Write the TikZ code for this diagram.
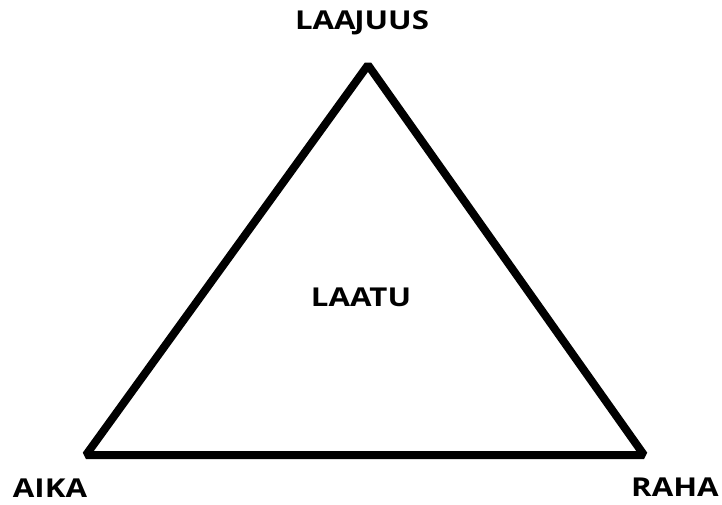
\documentclass[tikz,border=0pt]{standalone}
\usepackage{fontspec}
\setmainfont{Open Sans}
\newfontfamily\lblfont[FakeStretch=1.2]{Open Sans}
\begin{document}
\begin{tikzpicture}[x=1pt,y=-1pt,
  lbl/.style={font=\lblfont\fontsize{26}{30}\selectfont\bfseries, inner sep=0pt, anchor=center},
  edge/.style={line width=8pt, line join=bevel, black}]
\useasboundingbox (0,0) rectangle (722,504);
\coordinate (top) at (368,65);
\coordinate (bl) at (86,455);
\coordinate (br) at (644,455);
\draw[edge] (top) -- (bl) -- (br) -- cycle;
\node[lbl] (laajuus) at (362,23) {LAA\kern-1.5pt JUUS};
\node[lbl] (laatu) at (361,297) {LAATU};
\node[lbl] (aika) at (50,488) {AIKA};
\node[lbl] (raha) at (675,487) {RAHA};
\end{tikzpicture}
\end{document}
